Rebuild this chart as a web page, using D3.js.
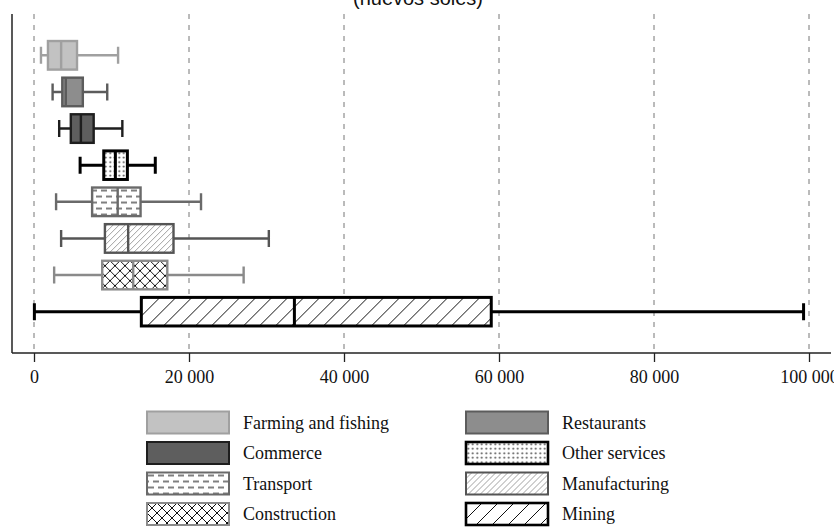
<!DOCTYPE html>
<html>
<head>
<meta charset="utf-8">
<script src="https://cdn.jsdelivr.net/npm/d3@7"></script>
<style>
  body { margin: 0; background: #fff; }
  svg { display: block; }
</style>
</head>
<body>
<script>
// Box plot data (nuevos soles)
const categories = ["Farming and fishing", "Restaurants", "Commerce", "Other services",
  "Transport", "Manufacturing", "Construction", "Mining"];
const mins    = [900, 2400, 3250, 5950, 2850, 3500, 2600, 50];
const q1s     = [1800, 3650, 4750, 9000, 7500, 9150, 8800, 13850];
const medians = [3500, 4100, 6050, 10500, 10800, 12150, 12800, 33600];
const q3s     = [5550, 6300, 7700, 12050, 13750, 18000, 17200, 59000];
const maxs    = [10850, 9450, 11400, 15650, 21550, 30300, 27050, 99300];
const tickValues = [0, 20000, 40000, 60000, 80000, 100000];

const width = 834, height = 527;

// look of each series (fill / pattern and outline colour)
const styles = {
  "Farming and fishing": { fill: "#c2c2c2", stroke: "#a0a0a0", sw: 2 },
  "Restaurants":         { fill: "#8d8d8d", stroke: "#5c5c5c", sw: 2 },
  "Commerce":            { fill: "#5e5e5e", stroke: "#1e1e1e", sw: 2 },
  "Other services":      { fill: "url(#dots)", stroke: "#000", sw: 2.6 },
  "Transport":           { fill: "url(#dashes)", stroke: "#6a6a6a", sw: 2 },
  "Manufacturing":       { fill: "url(#hatchLight)", stroke: "#555", sw: 2 },
  "Construction":        { fill: "url(#cross)", stroke: "#8a8a8a", sw: 2 },
  "Mining":              { fill: "url(#hatchBold)", stroke: "#000", sw: 2.6 }
};

const svg = d3.select("body").append("svg")
  .attr("width", width)
  .attr("height", height);

// patterns
const defs = svg.append("defs");

const dots = defs.append("pattern").attr("id", "dots")
  .attr("patternUnits", "userSpaceOnUse").attr("width", 4.5).attr("height", 4.5);
dots.append("rect").attr("width", 4.5).attr("height", 4.5).attr("fill", "#fff");
dots.append("circle").attr("cx", 2.25).attr("cy", 2.25).attr("r", 1).attr("fill", "#444");

const dashes = defs.append("pattern").attr("id", "dashes")
  .attr("patternUnits", "userSpaceOnUse").attr("width", 10).attr("height", 12);
dashes.append("rect").attr("width", 10).attr("height", 12).attr("fill", "#fff");
dashes.append("path").attr("d", "M1,3H7M-4,9H2M6,9H12")
  .attr("stroke", "#000").attr("stroke-width", 1);

function hatch(id, size, color, sw) {
  const p = defs.append("pattern").attr("id", id)
    .attr("patternUnits", "userSpaceOnUse").attr("width", size).attr("height", size);
  p.append("rect").attr("width", size).attr("height", size).attr("fill", "#fff");
  p.append("path")
    .attr("d", `M0,${size}L${size},0M-2,2L2,-2M${size - 2},${size + 2}L${size + 2},${size - 2}`)
    .attr("stroke", color).attr("stroke-width", sw);
}
hatch("hatchLight", 6, "#a0a0a0", 1);
hatch("hatchBold", 16, "#111", 1);

const cross = defs.append("pattern").attr("id", "cross")
  .attr("patternUnits", "userSpaceOnUse").attr("width", 10).attr("height", 10);
cross.append("rect").attr("width", 10).attr("height", 10).attr("fill", "#fff");
cross.append("path").attr("d", "M0,0L10,10M10,0L0,10")
  .attr("stroke", "#111").attr("stroke-width", 1);

// scales
const x = d3.scaleLinear().domain([0, 100000]).range([34, 809]);
const y = d3.scaleBand().domain(categories).range([37, 330])
  .paddingInner(0.22).paddingOuter(0.11);

const locale = d3.formatLocale({ decimal: ".", thousands: " ", grouping: [3], currency: ["", ""] });
const fmt = locale.format(",");

// title (cut at the top of the picture, as in the source)
svg.append("text")
  .attr("x", 418).attr("y", 5)
  .attr("text-anchor", "middle")
  .style("font-family", "Liberation Sans, Arial, sans-serif")
  .style("font-size", "20px")
  .attr("fill", "#111")
  .text("(nuevos soles)");

// dashed grid
svg.append("g").selectAll("line")
  .data(tickValues)
  .join("line")
  .attr("x1", (d) => x(d)).attr("x2", (d) => x(d))
  .attr("y1", 14).attr("y2", 353)
  .attr("stroke", "#777").attr("stroke-width", 1)
  .attr("stroke-dasharray", "5,6");

// axes frame
svg.append("line").attr("x1", 12).attr("x2", 12).attr("y1", 14).attr("y2", 353)
  .attr("stroke", "#222").attr("stroke-width", 1.5);
svg.append("line").attr("x1", 12).attr("x2", 831).attr("y1", 353).attr("y2", 353)
  .attr("stroke", "#222").attr("stroke-width", 1.5);

const xAxis = svg.append("g")
  .attr("transform", "translate(0,353)")
  .call(d3.axisBottom(x).tickValues(tickValues).tickSize(9).tickPadding(8).tickFormat(fmt));
xAxis.select(".domain").remove();
xAxis.selectAll("line").attr("stroke", "#222").attr("stroke-width", 1.3);
xAxis.selectAll("text")
  .style("font-family", "Liberation Serif, Times New Roman, serif")
  .style("font-size", "18px")
  .attr("fill", "#111");

// boxes
const data = categories.map((c, i) => ({
  name: c, min: mins[i], q1: q1s[i], med: medians[i], q3: q3s[i], max: maxs[i]
}));

const bh = y.bandwidth();
const capH = 17;

const boxes = svg.append("g").selectAll("g")
  .data(data)
  .join("g")
  .attr("transform", (d) => `translate(0,${y(d.name)})`);

boxes.each(function (d) {
  const g = d3.select(this);
  const st = styles[d.name];
  const cy = bh / 2;
  // whiskers
  g.append("path")
    .attr("d", `M${x(d.min)},${cy}H${x(d.q1)}M${x(d.q3)},${cy}H${x(d.max)}` +
      `M${x(d.min)},${cy - capH / 2}V${cy + capH / 2}M${x(d.max)},${cy - capH / 2}V${cy + capH / 2}`)
    .attr("stroke", st.stroke).attr("stroke-width", st.sw + 0.4).attr("fill", "none");
  // box
  g.append("rect")
    .attr("x", x(d.q1)).attr("y", 0)
    .attr("width", x(d.q3) - x(d.q1)).attr("height", bh)
    .attr("fill", st.fill).attr("stroke", st.stroke).attr("stroke-width", st.sw + 0.4);
  // median
  g.append("line")
    .attr("x1", x(d.med)).attr("x2", x(d.med))
    .attr("y1", 0).attr("y2", bh)
    .attr("stroke", st.stroke).attr("stroke-width", st.sw + 0.4);
});

// legend, two columns
const legend = svg.append("g").selectAll("g")
  .data(categories)
  .join("g")
  .attr("transform", (d, i) => `translate(${i % 2 === 0 ? 147 : 466},${411.5 + Math.floor(i / 2) * 30.5})`);

legend.append("rect")
  .attr("width", 82).attr("height", 22)
  .attr("fill", (d) => styles[d].fill)
  .attr("stroke", (d) => styles[d].stroke)
  .attr("stroke-width", (d) => styles[d].sw);

legend.append("text")
  .attr("x", 96).attr("y", 17)
  .style("font-family", "Liberation Serif, Times New Roman, serif")
  .style("font-size", "18px")
  .attr("fill", "#111")
  .text((d) => d);
</script>
</body>
</html>
